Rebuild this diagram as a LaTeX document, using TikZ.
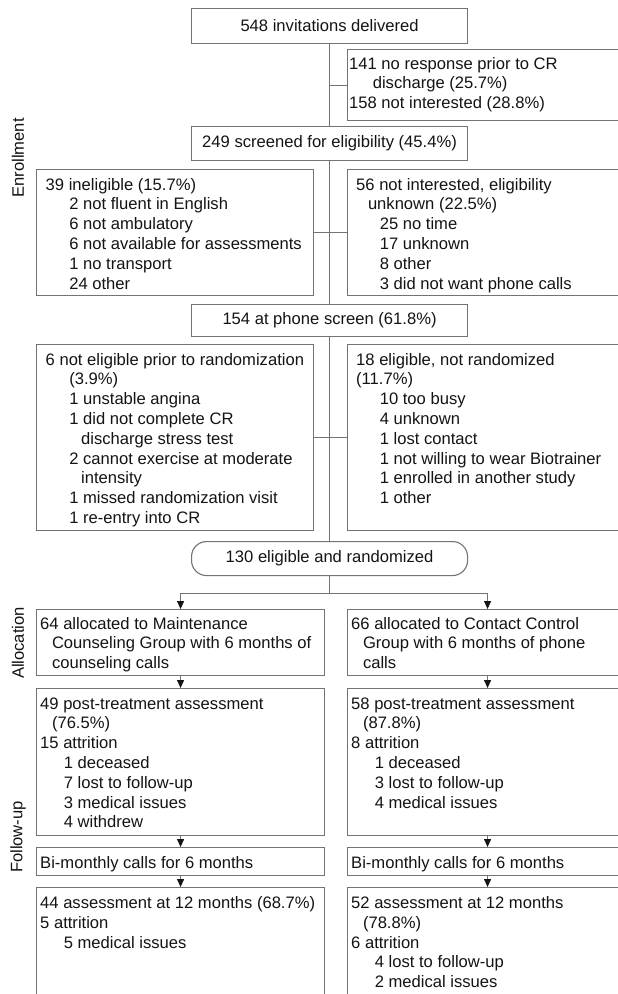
\documentclass[tikz,border=0pt]{standalone}
\usepackage{fontspec}
\setmainfont{Liberation Sans}
\usetikzlibrary{arrows.meta,calc}
\newcommand{\fs}{\fontsize{16.6}{19.8}\selectfont}
\newcommand{\mylines}[4]{\foreach \lv/\t [count=\i] in {#4} \node[txt] (#1-\i) at ({#2+11.8*\lv},{#3+19.8*(\i-1)}) {\t};}
\definecolor{lncol}{RGB}{115,115,115}
\definecolor{txcol}{RGB}{20,20,20}
\begin{document}
\begin{tikzpicture}[x=1pt,y=-1pt,
  box/.style={draw=lncol,line width=1.1pt,rectangle,anchor=north west,inner sep=0pt,font=\fs,text=txcol},
  txt/.style={anchor=base west,inner sep=0pt,font=\fs,text=txcol},
  lbl/.style={rotate=90,inner sep=0pt,font=\fs,text=txcol},
  conn/.style={draw=lncol,line width=1.1pt},
  arr/.style={draw=lncol,line width=1.1pt,-{Triangle[width=7pt,length=8pt,color=txcol]}}]
\useasboundingbox (0,0) rectangle (618,994);
\clip (0,0) rectangle (618,994);
\fill[white] (0,0) rectangle (618,994);

% side labels
\node[lbl] (lenr) at (18,158) {Enrollment};
\node[lbl] (lall) at (18,643) {Allocation};
\node[lbl] (lfol) at (18,837) {Follow-up};

% enrollment column
\node[box,minimum width=276pt,minimum height=35pt] (b548) at (191,8) {548 invitations delivered};
\node[box,minimum width=277pt,minimum height=71pt] (br1) at (347,49) {};
\mylines{r1}{349}{69}{0/{141 no response prior to CR},2/{discharge (25.7\%)},0/{158 not interested (28.8\%)}}

\node[box,minimum width=276pt,minimum height=34pt] (b249) at (191,126) {249 screened for eligibility (45.4\%)};
\node[box,minimum width=277pt,minimum height=126pt] (bl2) at (36,169) {};
\mylines{l2}{45.5}{190}{0/{39 ineligible (15.7\%)},2/{2 not fluent in English},2/{6 not ambulatory},2/{6 not available for assessments},2/{1 no transport},2/{24 other}}
\node[box,minimum width=277pt,minimum height=126pt] (br2) at (347,169) {};
\mylines{r2}{356}{190}{0/{56 not interested, eligibility},1/{unknown (22.5\%)},2/{25 no time},2/{17 unknown},2/{8 other},2/{3 did not want phone calls}}

\node[box,minimum width=276pt,minimum height=32pt] (b154) at (191,304) {154 at phone screen (61.8\%)};
\node[box,minimum width=277pt,minimum height=186pt] (bl3) at (36,344) {};
\mylines{l3}{45.5}{365}{0/{6 not eligible prior to randomization},2/{(3.9\%)},2/{1 unstable angina},2/{1 did not complete CR},3/{discharge stress test},2/{2 cannot exercise at moderate},3/{intensity},2/{1 missed randomization visit},2/{1 re-entry into CR}}
\node[box,minimum width=277pt,minimum height=186pt] (br3) at (347,344) {};
\mylines{r3}{356}{365}{0/{18 eligible, not randomized},0/{(11.7\%)},2/{10 too busy},2/{4 unknown},2/{1 lost contact},2/{1 not willing to wear Biotrainer},2/{1 enrolled in another study},2/{1 other}}

\node[box,rounded corners=15pt,minimum width=276pt,minimum height=34pt] (b130) at (191,541) {130 eligible and randomized};

% allocation
\node[box,minimum width=288pt,minimum height=66pt] (ba1) at (36,609) {};
\mylines{a1}{40}{629}{0/{64 allocated to Maintenance},1/{Counseling Group with 6 months of},1/{counseling calls}}
\node[box,minimum width=280pt,minimum height=66pt] (ba2) at (347,609) {};
\mylines{a2}{351}{629}{0/{66 allocated to Contact Control},1/{Group with 6 months of phone},1/{calls}}

% follow-up
\node[box,minimum width=288pt,minimum height=147pt] (bf1) at (36,688) {};
\mylines{f1}{40}{709}{0/{49 post-treatment assessment},1/{(76.5\%)},0/{15 attrition},2/{1 deceased},2/{7 lost to follow-up},2/{3 medical issues},2/{4 withdrew}}
\node[box,minimum width=280pt,minimum height=147pt] (bf2) at (347,688) {};
\mylines{f2}{351}{709}{0/{58 post-treatment assessment},1/{(87.8\%)},0/{8 attrition},2/{1 deceased},2/{3 lost to follow-up},2/{4 medical issues}}

\node[box,minimum width=288pt,minimum height=28pt] (bb1) at (36,847) {};
\node[txt] (bb1t) at (40,868) {Bi-monthly calls for 6 months};
\node[box,minimum width=280pt,minimum height=28pt] (bb2) at (347,847) {};
\node[txt] (bb2t) at (351,868) {Bi-monthly calls for 6 months};

\node[box,minimum width=288pt,minimum height=120pt] (bg1) at (36,887) {};
\mylines{g1}{40}{908.5}{0/{44 assessment at 12 months (68.7\%)},0/{5 attrition},2/{5 medical issues}}
\node[box,minimum width=280pt,minimum height=120pt] (bg2) at (347,887) {};
\mylines{g2}{351}{908.5}{0/{52 assessment at 12 months},1/{(78.8\%)},0/{6 attrition},2/{4 lost to follow-up},2/{2 medical issues}}

% connectors
\draw[conn] (b548.south) -- (b249.north);
\draw[conn] (b548.south |- br1.west) -- (br1.west);
\draw[conn] (b249.south) -- (b154.north);
\draw[conn] (bl2.east) -- (br2.west);
\draw[conn] (b154.south) -- (b130.north);
\draw[conn] (bl3.east) -- (br3.west);
\draw[conn] (b130.south) -- ++(0,17) coordinate (split);
\draw[arr] (split) -| (ba1.north);
\draw[arr] (split) -| (ba2.north);
\draw[arr] (ba1.south) -- (bf1.north);
\draw[arr] (ba2.south) -- (bf2.north);
\draw[arr] (bf1.south) -- (bb1.north);
\draw[arr] (bf2.south) -- (bb2.north);
\draw[arr] (bb1.south) -- (bg1.north);
\draw[arr] (bb2.south) -- (bg2.north);
\end{tikzpicture}
\end{document}
